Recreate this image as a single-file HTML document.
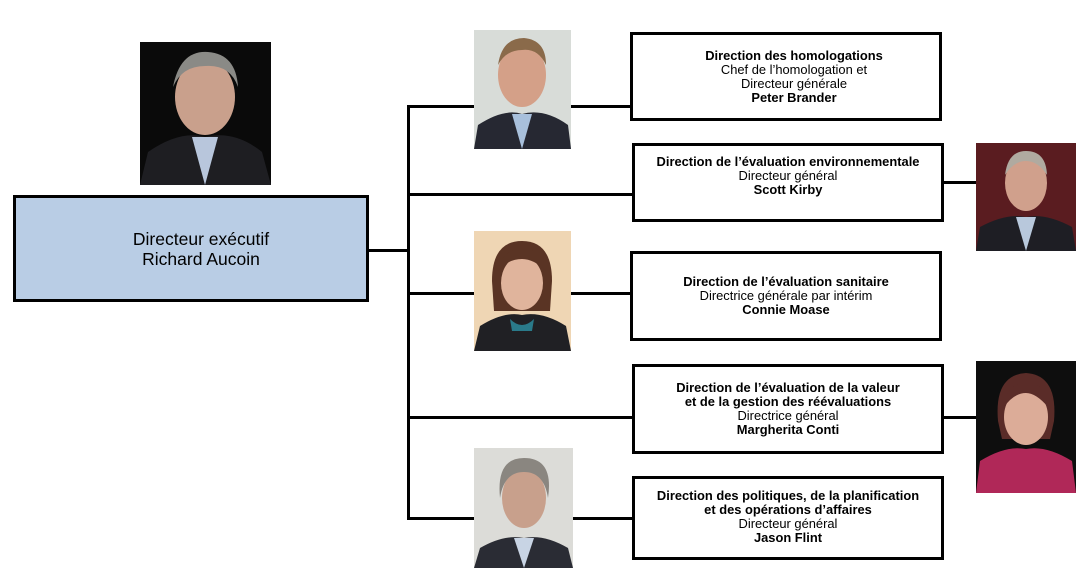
<!DOCTYPE html>
<html><head><meta charset="utf-8"><style>
body{margin:0;width:1092px;height:581px;background:#fff;position:relative;overflow:hidden;font-family:"Liberation Sans",Arial,sans-serif;}
.l{position:absolute;background:#000;}
.box{position:absolute;border:3px solid #000;box-sizing:border-box;background:#fff;text-align:center;font-size:12.9px;line-height:14px;color:#000;white-space:nowrap;}
.box b{font-weight:bold;}
.p{position:absolute;overflow:hidden;}
</style></head><body>
<div class="l" style="left:368px;top:249px;width:42px;height:3px"></div>
<div class="l" style="left:407px;top:105px;width:3px;height:415px"></div>
<div class="l" style="left:407px;top:105px;width:224px;height:3px"></div>
<div class="l" style="left:407px;top:193px;width:226px;height:3px"></div>
<div class="l" style="left:407px;top:292px;width:224px;height:3px"></div>
<div class="l" style="left:407px;top:416px;width:226px;height:3px"></div>
<div class="l" style="left:407px;top:517px;width:226px;height:3px"></div>
<div class="l" style="left:942px;top:181px;width:35px;height:3px"></div>
<div class="l" style="left:942px;top:416px;width:35px;height:3px"></div>

<div class="box" style="left:13px;top:195px;width:356px;height:107px;background:#b9cde5;font-size:17.5px;line-height:20px;padding-top:31px;padding-left:20px">Directeur exécutif<br>Richard Aucoin</div>

<div class="box" style="left:630px;top:32px;width:312px;height:89px;padding-top:14px;padding-left:16px"><b>Direction des homologations</b><br>Chef de l’homologation et<br>Directeur générale<br><b>Peter Brander</b></div>
<div class="box" style="left:632px;top:143px;width:312px;height:79px;padding-top:9px"><b>Direction de l’évaluation environnementale</b><br>Directeur général<br><b>Scott Kirby</b></div>
<div class="box" style="left:630px;top:251px;width:312px;height:90px;padding-top:21px"><b>Direction de l’évaluation sanitaire</b><br>Directrice générale par intérim<br><b>Connie Moase</b></div>
<div class="box" style="left:632px;top:364px;width:312px;height:90px;padding-top:14px"><b>Direction de l’évaluation de la valeur<br>et de la gestion des réévaluations</b><br>Directrice général<br><b>Margherita Conti</b></div>
<div class="box" style="left:632px;top:476px;width:312px;height:84px;padding-top:10px"><b>Direction des politiques, de la planification<br>et des opérations d’affaires</b><br>Directeur général<br><b>Jason Flint</b></div>

<svg class="p" style="left:140px;top:42px" width="131" height="143" viewBox="0 0 131 143"><rect width="131" height="143" fill="#0a0a0a"/><path d="M0 143 L8 110 Q40 88 65 95 Q95 88 122 110 L131 143Z" fill="#1e1e22"/><path d="M52 95 L65 143 L78 95Z" fill="#b8c6dc"/><ellipse cx="65" cy="55" rx="30" ry="38" fill="#c9a08c"/><path d="M33 45 Q40 8 68 10 Q96 12 98 45 Q90 22 65 24 Q42 24 33 45Z" fill="#8a8a86"/></svg>

<svg class="p" style="left:474px;top:30px" width="97" height="119" viewBox="0 0 97 119"><rect width="97" height="119" fill="#d8dcd8"/><path d="M0 119 L4 95 Q30 78 48 84 Q70 78 94 95 L97 119Z" fill="#262832"/><path d="M38 84 L48 119 L58 84Z" fill="#a8c0dc"/><ellipse cx="48" cy="45" rx="24" ry="32" fill="#d4a088"/><path d="M24 35 Q28 8 50 8 Q72 10 72 35 Q64 18 48 20 Q32 20 24 35Z" fill="#8a6a4a"/></svg>

<svg class="p" style="left:474px;top:231px" width="97" height="120" viewBox="0 0 97 120"><rect width="97" height="120" fill="#efd6b4"/><path d="M0 120 L6 95 Q30 80 48 84 Q68 80 92 95 L97 120Z" fill="#202024"/><path d="M36 88 Q48 100 60 88 L58 100 L38 100Z" fill="#2a7a8a"/><path d="M18 50 Q18 10 48 10 Q78 10 78 50 L76 80 L20 80Z" fill="#5a3424"/><ellipse cx="48" cy="52" rx="21" ry="27" fill="#e0b49c"/><path d="M24 40 Q28 18 48 18 Q70 18 72 40 Q60 28 48 28 Q34 28 24 40Z" fill="#5a3424"/></svg>

<svg class="p" style="left:474px;top:448px" width="99" height="120" viewBox="0 0 99 120"><rect width="99" height="120" fill="#dcdcd8"/><path d="M0 120 L6 100 Q30 86 50 90 Q70 86 94 100 L99 120Z" fill="#2a2c34"/><path d="M40 90 L50 120 L60 90Z" fill="#c8d4e4"/><ellipse cx="50" cy="50" rx="22" ry="30" fill="#c8a08c"/><path d="M26 50 Q22 10 50 10 Q80 10 74 50 Q70 24 50 24 Q30 24 26 50Z" fill="#8a8680"/></svg>

<svg class="p" style="left:976px;top:143px" width="100" height="108" viewBox="0 0 100 108"><rect width="100" height="108" fill="#5a1c20"/><path d="M0 108 L4 84 Q30 70 50 74 Q70 70 96 84 L100 108Z" fill="#1e1e24"/><path d="M40 74 L50 108 L60 74Z" fill="#b8c8dc"/><ellipse cx="50" cy="40" rx="21" ry="28" fill="#d0a08c"/><path d="M29 32 Q32 8 50 8 Q70 8 71 32 Q62 18 50 18 Q38 18 29 32Z" fill="#b0aaa0"/></svg>

<svg class="p" style="left:976px;top:361px" width="100" height="132" viewBox="0 0 100 132"><rect width="100" height="132" fill="#0e0e0e"/><path d="M0 132 L4 100 Q30 84 50 88 Q70 84 96 100 L100 132Z" fill="#b02858"/><path d="M22 60 Q18 14 50 12 Q82 14 78 60 L74 78 L26 78Z" fill="#5a2c28"/><ellipse cx="50" cy="56" rx="22" ry="28" fill="#dcac98"/><path d="M28 46 Q30 22 50 22 Q72 22 72 46 Q60 32 50 32 Q38 32 28 46Z" fill="#5a2c28"/></svg>
</body></html>
